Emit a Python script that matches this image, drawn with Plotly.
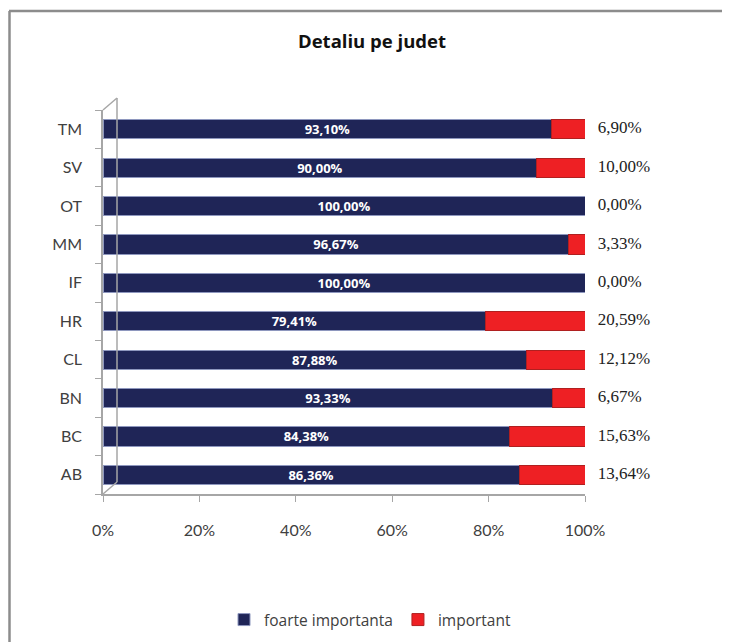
import plotly.graph_objects as go

# data
judete = ["AB", "BC", "BN", "CL", "HR", "IF", "MM", "OT", "SV", "TM"]
foarte_importanta = [86.36, 84.38, 93.33, 87.88, 79.41, 100.00, 96.67, 100.00, 90.00, 93.10]
important = [13.64, 15.63, 6.67, 12.12, 20.59, 0.00, 3.33, 0.00, 10.00, 6.90]
x_ticks = [0, 20, 40, 60, 80, 100]

NAVY = "#1F2557"
RED = "#EE2024"

OFF = 8                      # page body margin that the browser adds
W, H = 730 - OFF, 642 - OFF
L, R, T, B = 103 - OFF, 585 - OFF, 110 - OFF, 494 - OFF   # plot area in figure pixels


def fmt(v):
    return f"{v:.2f}".replace(".", ",") + "%"


# page pixel -> paper coordinates
def px(x):
    return (x - OFF - L) / (R - L)


def py(y):
    return (B - (y - OFF)) / (B - T)


fig = go.Figure()

fig.add_trace(go.Bar(
    y=judete, x=foarte_importanta, orientation="h", name="foarte importanta",
    marker=dict(color=NAVY, line=dict(color="#8E97BE", width=1)),
    text=[fmt(v) for v in foarte_importanta], textposition="inside",
    insidetextanchor="middle", textangle=0, constraintext="none",
    textfont=dict(family="Open Sans", size=13, color="white", weight="bold"),
))
fig.add_trace(go.Bar(
    y=judete, x=important, orientation="h", name="important",
    marker=dict(color=RED, line=dict(color="#B02020", width=1)),
    hoverinfo="x+y",
))

# outside labels for the "important" share
fig.add_trace(go.Scatter(
    y=judete, x=[min(a + b, 100) for a, b in zip(foarte_importanta, important)],
    mode="text", text=["\u00a0\u00a0\u00a0" + fmt(v) for v in important],
    textposition="middle right",
    textfont=dict(family="Liberation Serif", size=17, color="#222222"),
    showlegend=False, hoverinfo="skip", cliponaxis=False,
))

shapes = [
    # chart frame
    dict(type="line", xref="paper", yref="paper", x0=px(9), x1=px(730), y0=py(11), y1=py(11),
         line=dict(color="#8C8C8C", width=2.5)),
    dict(type="line", xref="paper", yref="paper", x0=px(9.5), x1=px(9.5), y0=py(11), y1=py(645),
         line=dict(color="#8C8C8C", width=2.5)),
    dict(type="line", xref="paper", yref="paper", x0=px(727), x1=px(727), y0=py(11), y1=py(645),
         line=dict(color="#EFEFEF", width=1)),
    # 3d side wall
    dict(type="line", xref="paper", yref="paper", x0=px(117), x1=px(117), y0=py(98), y1=py(482),
         line=dict(color="#A6A6A6", width=1.5)),
    dict(type="line", xref="paper", yref="paper", x0=px(103), x1=px(117), y0=py(110), y1=py(98),
         line=dict(color="#A6A6A6", width=1.5)),
    dict(type="line", xref="paper", yref="paper", x0=px(103), x1=px(117), y0=py(494), y1=py(482),
         line=dict(color="#A6A6A6", width=1.5)),
]

fig.update_layout(
    width=W, height=H,
    margin=dict(l=L, r=W - R, t=T, b=H - B, autoexpand=False),
    paper_bgcolor="white", plot_bgcolor="white",
    barmode="stack", bargap=0.5,
    font=dict(family="Lato", size=15, color="#404040"),
    title=dict(text="<b>Detaliu pe judet</b>", xref="container", x=(372 - OFF) / W, xanchor="center",
               yref="container", y=1 - (42 - OFF) / H, yanchor="middle",
               font=dict(family="Open Sans", size=18.5, color="#111111")),
    xaxis=dict(range=[0, 100], tickvals=x_ticks, ticktext=[f"{v}%" for v in x_ticks],
               showgrid=False, zeroline=False, showline=True, linecolor="#A6A6A6", linewidth=1.5,
               ticks="outside", ticklen=6, tickcolor="#A6A6A6", ticklabelstandoff=15,
               tickfont=dict(size=16, color="#404040"), fixedrange=True),
    yaxis=dict(type="category", categoryorder="array", categoryarray=judete,
               showgrid=False, showline=True, linecolor="#A6A6A6", linewidth=1.5,
               ticks="outside", ticklen=6, tickcolor="#A6A6A6", tickson="boundaries",
               ticklabelstandoff=16, tickfont=dict(size=16, color="#404040"), fixedrange=True),
    legend=dict(orientation="h", x=px(370), xanchor="center", y=py(620), yanchor="middle",
                font=dict(family="Open Sans", size=15.5, color="#404040"), itemwidth=30,
                traceorder="normal"),
    shapes=shapes,
    showlegend=True,
)

fig.write_html("out.html")
